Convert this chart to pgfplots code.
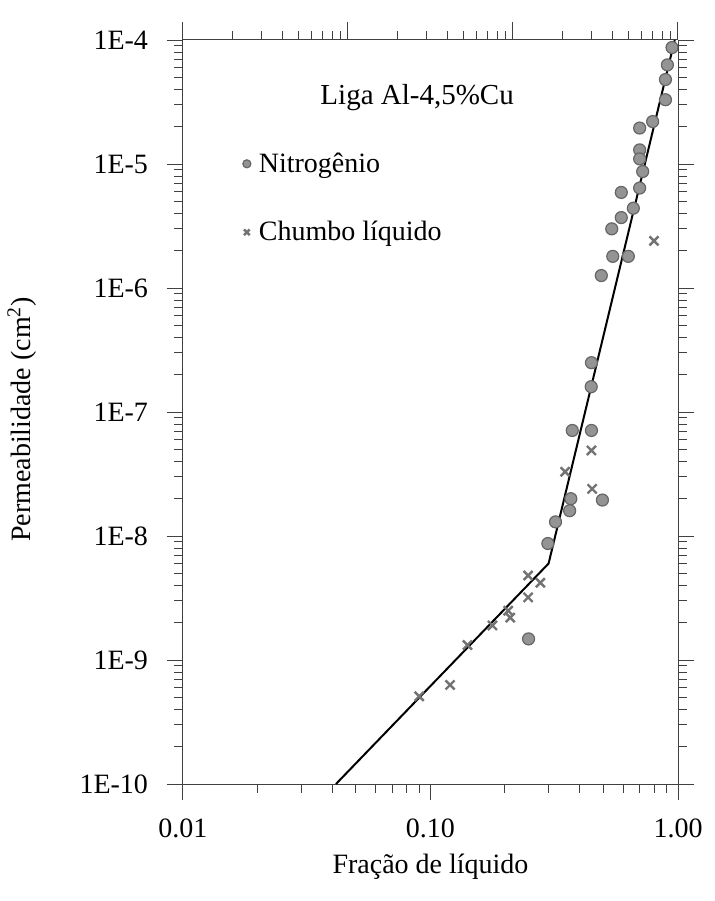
\documentclass[border=0pt]{standalone}
\usepackage{fontspec}
\setmainfont{Liberation Serif}
\usepackage{pgfplots}
\usepackage{pgfplotstable}
\pgfplotsset{compat=1.18}

\pgfplotstableread{
x y
0.946 8.7e-5
0.906 6.3e-5
0.89 4.8e-5
0.89 3.3e-5
0.79 2.2e-5
0.70 1.95e-5
0.70 1.3e-5
0.70 1.1e-5
0.72 8.7e-6
0.70 6.4e-6
0.59 5.9e-6
0.66 4.4e-6
0.59 3.7e-6
0.54 3.0e-6
0.545 1.8e-6
0.63 1.8e-6
0.49 1.26e-6
0.447 2.5e-7
0.446 1.6e-7
0.374 7.1e-8
0.447 7.1e-8
0.369 2.0e-8
0.365 1.6e-8
0.495 1.95e-8
0.32 1.3e-8
0.298 8.7e-9
0.249 1.48e-9
}\nitro

\pgfplotstableread{
x y
0.80 2.4e-6
0.447 4.9e-8
0.45 2.4e-8
0.35 3.3e-8
0.248 4.8e-9
0.278 4.2e-9
0.248 3.2e-9
0.206 2.5e-9
0.21 2.2e-9
0.178 1.9e-9
0.141 1.32e-9
0.12 6.3e-10
0.090 5.1e-10
}\chumbo

\pgfplotstableread{
x y
0.0415 1e-10
0.30 6e-9
0.97 1e-4
}\linefit

\pgfplotsset{
  frame/.style={
    at={(0,0)}, anchor=south west,
    width=247.5pt, height=372pt, scale only axis,
    axis line style={black!75, line width=0.5pt, -},
    tick style={black!75, line width=0.5pt},
    major tick length=8pt, minor tick length=4.5pt,
    tick align=outside,
  },
  yticksall/.style={
    ytick={1e-10,1e-9,1e-8,1e-7,1e-6,1e-5,1e-4},
    minor ytick={2e-10,3e-10,4e-10,5e-10,6e-10,7e-10,8e-10,9e-10,
               2e-9,3e-9,4e-9,5e-9,6e-9,7e-9,8e-9,9e-9,
               2e-8,3e-8,4e-8,5e-8,6e-8,7e-8,8e-8,9e-8,
               2e-7,3e-7,4e-7,5e-7,6e-7,7e-7,8e-7,9e-7,
               2e-6,3e-6,4e-6,5e-6,6e-6,7e-6,8e-6,9e-6,
               2e-5,3e-5,4e-5,5e-5,6e-5,7e-5,8e-5,9e-5},
  },
}

\begin{document}
\begin{tikzpicture}
\begin{axis}[
  frame, yticksall,
  xmode=log, ymode=log,
  xmin=0.01, xmax=1, ymin=1e-10, ymax=1e-4,
  axis x line*=bottom, axis y line*=left,
  xtick={0.01,0.1,1},
  xticklabels={0.01,0.10,1.00},
  minor xtick={0.02,0.03,0.04,0.05,0.06,0.07,0.08,0.09,0.2,0.3,0.4,0.5,0.6,0.7,0.8,0.9},
  yticklabels={1E-10,1E-9,1E-8,1E-7,1E-6,1E-5,1E-4},
  ticklabel style={font=\fontsize{14}{16}\selectfont},
  xticklabel style={yshift=-6pt},
  yticklabel style={xshift=-6pt},
  xlabel={Fração de líquido},
  ylabel={Permeabilidade (cm\textsuperscript{2})},
  label style={font=\fontsize{14}{16}\selectfont},
  xlabel style={at={(axis description cs:0.5,-0.111)}, anchor=center},
  ylabel style={at={(axis description cs:-0.325,0.49)}, anchor=center},
  clip=false,
  legend style={draw=none, fill=none, font=\fontsize{14}{16}\selectfont,
    at={(axis description cs:0.1,0.86)}, anchor=north west,
    row sep=19pt},
  legend cell align=left,
  legend image code/.code={\path[draw=none,fill=none] (0cm,0cm) (0.28cm,0cm);
    \draw[#1, only marks] plot coordinates {(0.14cm,0cm)};},
  legend image post style={mark size=2pt},
]
\addplot[black, line width=1pt, forget plot] table[x=x,y=y] {\linefit};
\addplot[only marks, mark=*, mark size=3pt, mark options={fill=black!42, draw=black!60, line width=0.6pt}] table[x=x,y=y] {\nitro};
\addlegendentry{Nitrogênio}
\addplot[only marks, mark=x, mark size=3.2pt, mark options={draw=black!55, line width=1.2pt}] table[x=x,y=y] {\chumbo};
\addlegendentry{Chumbo líquido}
\node[font=\fontsize{14.5}{17}\selectfont] at (rel axis cs:0.473,0.923) {Liga Al-4,5\%Cu};
\end{axis}
\begin{axis}[
  frame,
  xmode=log, xmin=1, xmax=1000, ymin=0, ymax=1,
  axis x line*=top, axis y line=none,
  major tick length=9pt,
  xtick={1,10,100,1000},
  minor xtick={2,3,4,5,6,7,8,9,20,30,40,50,60,70,80,90,200,300,400,500,600,700,800,900},
  xticklabels={},
]
\addplot[draw=none] coordinates {(1,0.5)};
\end{axis}
\begin{axis}[
  frame, yticksall,
  ymode=log, xmin=0, xmax=1, ymin=1e-10, ymax=1e-4,
  axis y line*=right, axis x line=none,
  yticklabels={},
]
\addplot[draw=none] coordinates {(0.5,1e-7)};
\end{axis}
\pgfresetboundingbox
\path[use as bounding box] (-91.5pt,-58.5pt) rectangle (266pt,392pt);
\end{tikzpicture}
\end{document}
